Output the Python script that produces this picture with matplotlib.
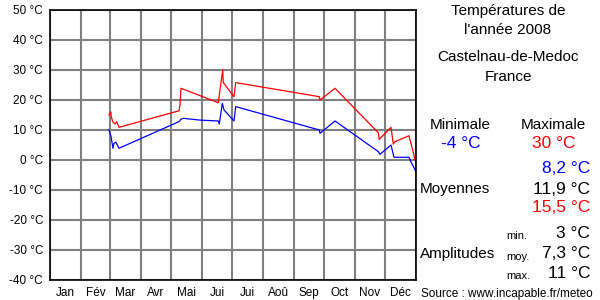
import matplotlib.pyplot as plt
import numpy as np

plt.rcParams['font.family'] = ['Liberation Sans', 'DejaVu Sans']

# day of year (2008, leap year) and temperatures
max_days = [59, 61, 61, 62.7, 65, 66.7, 69, 129, 130, 131, 168.3, 172.7, 173.3,
            184, 185.7, 269.3, 270, 285, 328.3, 329.3, 341, 343.3, 345, 359, 366]
max_temps = [15, 16, 14.7, 12.8, 12, 12.8, 10.9, 16.4, 18.3, 23.9, 19.1, 30, 25.8,
             21.1, 25.8, 21.1, 20, 23.9, 9.1, 6.9, 10.9, 5.3, 6.1, 8.1, -1.1]

min_days = [59, 61, 63, 64, 66, 69, 129, 131, 133.3, 150, 168.3, 169.3, 172.3,
            174, 184, 185.7, 269.3, 270, 285, 328.3, 330, 341, 344, 359, 361.7, 366]
min_temps = [10, 7.8, 3.9, 5.6, 5.9, 3.9, 12.8, 13.6, 13.9, 13.3, 13, 12, 18.9,
             16.7, 13, 17.8, 10, 8.9, 13, 2.8, 1.9, 5, 0.9, 0.9, -1.1, -3.9]

month_starts = [0, 31, 60, 91, 121, 152, 182, 213, 244, 274, 305, 335, 366]
month_labels = ['Jan', 'Fév', 'Mar', 'Avr', 'Mai', 'Jui', 'Jui', 'Aoû', 'Sep', 'Oct', 'Nov', 'Déc']
y_ticks = list(range(-40, 51, 10))

fig = plt.figure(figsize=(6, 3), dpi=100)
ax = fig.add_axes([50 / 600, 20 / 300, 366 / 600, 270 / 300])

ax.plot(max_days, max_temps, color='#ff0000', lw=0.9, zorder=3)
ax.plot(min_days, min_temps, color='#0000ff', lw=0.9, zorder=3)

ax.set_xlim(0, 366)
ax.set_ylim(-40, 50)
ax.set_xticks(month_starts)
ax.set_xticklabels([])
mids = [(a + b) / 2 for a, b in zip(month_starts[:-1], month_starts[1:])]
ax.set_xticks(mids, minor=True)
ax.set_xticklabels(month_labels, minor=True, fontsize=8.5)
ax.set_yticks(y_ticks)
ax.set_yticklabels([f'{v} °C' for v in y_ticks], fontsize=8.5)
ax.tick_params(which='both', length=0)
ax.tick_params(axis='x', which='minor', pad=5)
ax.tick_params(axis='y', pad=5)
ax.grid(True, which='major', color='#808080', lw=1.5)
for s in ax.spines.values():
    s.set_color('black')
    s.set_linewidth(1.2)
    s.set_zorder(4)

def px(x, y):
    return x / 600, 1 - y / 300

fig.text(*px(508, 11), 'Températures de', fontsize=11, ha='center', va='center')
fig.text(*px(508, 30), "l'année 2008", fontsize=11, ha='center', va='center')
fig.text(*px(508, 57), 'Castelnau-de-Medoc', fontsize=11, ha='center', va='center')
fig.text(*px(508, 77), 'France', fontsize=11, ha='center', va='center')

fig.text(*px(460, 125), 'Minimale', fontsize=11, ha='center', va='center')
fig.text(*px(553, 125), 'Maximale', fontsize=11, ha='center', va='center')
fig.text(*px(461, 143), '-4 °C', fontsize=12.5, ha='center', va='center', color='#0000ff')
fig.text(*px(554, 143), '30 °C', fontsize=12.5, ha='center', va='center', color='#ff0000')

fig.text(*px(590, 168), '8,2 °C', fontsize=12.5, ha='right', va='center', color='#0000ff')
fig.text(*px(420, 189), 'Moyennes', fontsize=11, ha='left', va='center')
fig.text(*px(590, 189), '11,9 °C', fontsize=12.5, ha='right', va='center')
fig.text(*px(590, 208), '15,5 °C', fontsize=12.5, ha='right', va='center', color='#ff0000')

fig.text(*px(420, 254), 'Amplitudes', fontsize=11, ha='left', va='center')
fig.text(*px(506, 236), 'min.', fontsize=8, ha='left', va='center')
fig.text(*px(506, 257), 'moy.', fontsize=8, ha='left', va='center')
fig.text(*px(506, 276), 'max.', fontsize=8, ha='left', va='center')
fig.text(*px(590, 233), '3 °C', fontsize=12.5, ha='right', va='center')
fig.text(*px(590, 254), '7,3 °C', fontsize=12.5, ha='right', va='center')
fig.text(*px(590, 273), '11 °C', fontsize=12.5, ha='right', va='center')

fig.text(*px(421, 294), 'Source : www.incapable.fr/meteo', fontsize=8.5, ha='left', va='center')

fig.savefig('out.png', dpi=100, facecolor='white')
